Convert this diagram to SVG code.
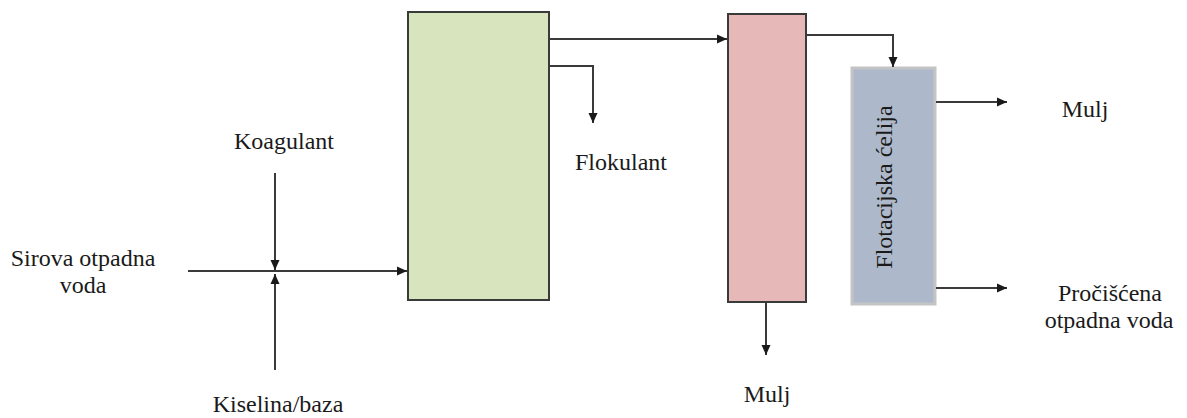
<svg xmlns="http://www.w3.org/2000/svg" width="1187" height="418" viewBox="0 0 1187 418">
<defs>
<marker id="ah" markerWidth="10" markerHeight="10" refX="10" refY="5" orient="auto" markerUnits="userSpaceOnUse">
<path d="M0,0.5 L10,5 L0,9.5 Z" fill="#1a1a1a"/>
</marker>
</defs>
<style>
.t{font-family:'Liberation Serif','Times New Roman','DejaVu Serif',serif;font-size:24px;fill:#1a1a1a;text-anchor:middle}
.c{fill:none;stroke:#3a3a3a;stroke-width:2;marker-end:url(#ah)}
.box{stroke:#3a3a3a;stroke-width:2}
</style>
<rect width="1187" height="418" fill="#ffffff"/>
<g id="mixer"><rect class="box" x="408" y="12" width="141" height="288" fill="#d7e4bd"/></g>
<g id="separator"><rect class="box" x="728" y="14" width="78" height="288" fill="#e6b8b7"/></g>
<g id="flotation" font-family="Liberation Serif, Times New Roman, serif"><rect x="852" y="68" width="83" height="236" fill="#adb9ca" stroke="#c4c4c4" stroke-width="3"/>
<text class="t" transform="translate(892,187) rotate(-90)">Flotacijska ćelija</text></g>
<g id="labels" font-family="Liberation Serif, Times New Roman, serif">
<text class="t" x="284" y="149">Koagulant</text>
<text class="t" x="83" y="266">Sirova otpadna</text>
<text class="t" x="83" y="293">voda</text>
<text class="t" x="278" y="412">Kiselina/baza</text>
<text class="t" x="621" y="170">Flokulant</text>
<text class="t" x="767" y="402">Mulj</text>
<text class="t" x="1085" y="117">Mulj</text>
<text class="t" x="1110" y="301">Pročišćena</text>
<text class="t" x="1109" y="328">otpadna voda</text>
</g>
<g id="connectors">
<path class="c" d="M188,271 H407"/>
<path class="c" d="M275,173 V270"/>
<path class="c" d="M275,370 V274"/>
<path class="c" d="M549,39 H727"/>
<path class="c" d="M549,66 H593 V123"/>
<path class="c" d="M806,35 H893 V67"/>
<path class="c" d="M766,302 V355"/>
<path class="c" d="M936,102 H1007"/>
<path class="c" d="M936,288 H1007"/>
</g>
</svg>
